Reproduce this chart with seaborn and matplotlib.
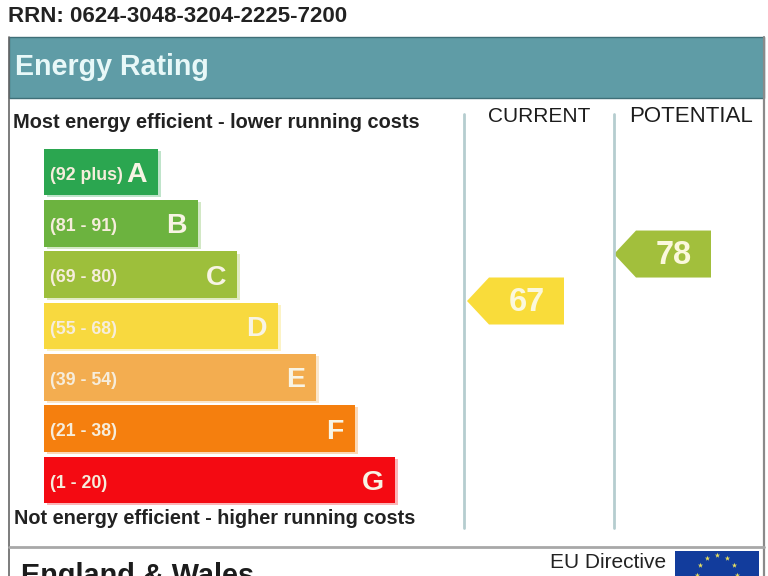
import matplotlib
matplotlib.use("Agg")
import matplotlib.pyplot as plt
import matplotlib.patheffects as pe
import numpy as np
import pandas as pd
import seaborn as sns
from matplotlib.patches import Polygon, Rectangle

W, H = 768, 576

# band data
bands = ["A", "B", "C", "D", "E", "F", "G"]
ranges = ["(92 plus)", "(81 - 91)", "(69 - 80)", "(55 - 68)",
          "(39 - 54)", "(21 - 38)", "(1 - 20)"]
bar_lengths = [114, 154, 193, 234, 272, 311, 351]
bar_colors = ["#2ba650", "#6cb33f", "#9dbf3b", "#f8d93f",
              "#f3ad50", "#f57f0e", "#f40a12"]

# ratings
current_rating = 67
potential_rating = 78
current_color = "#f9dc3a"
potential_color = "#a2bf3c"

rrn_text = "RRN: 0624-3048-3204-2225-7200"

sns.set_theme(style="white")
plt.rcParams["font.family"] = ["Liberation Sans", "DejaVu Sans"]

fig = plt.figure(figsize=(W / 100, H / 100), dpi=100, facecolor="white")

# whole figure axes, in pixels, for the frame and the text
ax = fig.add_axes([0, 0, 1, 1])
ax.set_xlim(0, W)
ax.set_ylim(H, 0)
ax.axis("off")

ax.add_patch(Rectangle((9, 37), 755, 61, fc="#5f9ca6", ec="#3f6f78", lw=1))
ax.plot([8.5, 8.5], [37, H], color="#666666", lw=1.2)
ax.plot([763.5, 763.5], [37, H], color="#8a8a8a", lw=1.6)
ax.plot([9, 764], [547, 547], color="#a8a8a8", lw=2)
ax.plot([463.5, 463.5], [114, 528], color="#b5cdcf", lw=2)
ax.plot([614, 614], [114, 528], color="#b5cdcf", lw=2)

ax.text(8, 17, rrn_text, fontsize=16, fontweight="bold", color="#222222",
        va="center")
ax.text(15, 67, "Energy Rating", fontsize=20.6, fontweight="bold",
        color="#e8f8f8", va="center")
ax.text(13, 122, "Most energy efficient - lower running costs", fontsize=14.4,
        fontweight="bold", color="#222222", va="center")
ax.text(14, 518, "Not energy efficient - higher running costs", fontsize=14.35,
        fontweight="bold", color="#222222", va="center")
ax.text(539, 116, "CURRENT", fontsize=15, color="#1c1c1c", ha="center",
        va="center")
ax.text(691, 116, "POTENTIAL", fontsize=16, color="#1c1c1c", ha="center",
        va="center")
ax.text(21, 576, "England & Wales", fontsize=20.8, fontweight="bold",
        color="#1c1c1c", va="center")
ax.text(666, 562, "EU Directive", fontsize=15, color="#222222", ha="right",
        va="center")

# EU flag, cut by the bottom of the image
ax.add_patch(Rectangle((675, 551), 84, 30, fc="#123c9c", ec="none"))
angles = np.radians(np.arange(0, 360, 30))
ax.scatter(717 + 20 * np.cos(angles), 575 - 20 * np.sin(angles), s=16,
           marker="*", color="#e8e060", linewidths=0, clip_on=True)


def rating_y(rating):
    # rating scale of the pointers, 4.27 px per point
    return 301 + (current_rating - rating) * 4.27


def draw_pointer(tip_x, rating, color):
    y = rating_y(rating)
    pts = [(tip_x, y), (tip_x + 22, y - 23.5), (tip_x + 97, y - 23.5),
           (tip_x + 97, y + 23.5), (tip_x + 22, y + 23.5)]
    ax.add_patch(Polygon(pts, closed=True, fc=color, ec="none"))
    ax.text(tip_x + 60, y + 1.5, str(rating), fontsize=23.5, fontweight="bold",
            color="#fbf8dc", ha="center", va="center")


draw_pointer(467, current_rating, current_color)
draw_pointer(614, potential_rating, potential_color)

# band bars in their own axes, x in pixels from the left of the bars
bar_top, bar_bottom = 146.4, 505.6
bar_ax = fig.add_axes([43.5 / W, 1 - bar_bottom / H, 400 / W,
                       (bar_bottom - bar_top) / H])
bar_ax.patch.set_alpha(0)
df = pd.DataFrame({"band": bands, "length": bar_lengths})
sns.barplot(data=df, y="band", x="length", hue="band", palette=bar_colors,
            width=0.905, saturation=1, legend=False, linewidth=0, ax=bar_ax)
bar_ax.set_xlim(0, 400)
bar_ax.set_ylim(6.5, -0.5)
bar_ax.axis("off")

for patch, color in zip(bar_ax.patches, bar_colors):
    patch.set_path_effects([
        pe.SimplePatchShadow(offset=(2.5, -1.5), shadow_rgbFace=color,
                             alpha=0.3),
        pe.Normal()])

for i, (band, label, length) in enumerate(zip(bands, ranges, bar_lengths)):
    bar_ax.text(6, i + 0.06, label, fontsize=12.8, fontweight="bold",
                color="#f6eddc", va="center")
    bar_ax.text(length - 10.5, i + 0.06, band, fontsize=20.5, color="#f8f4e4",
                fontweight="bold", ha="right", va="center")

fig.savefig("out.png", dpi=100)
